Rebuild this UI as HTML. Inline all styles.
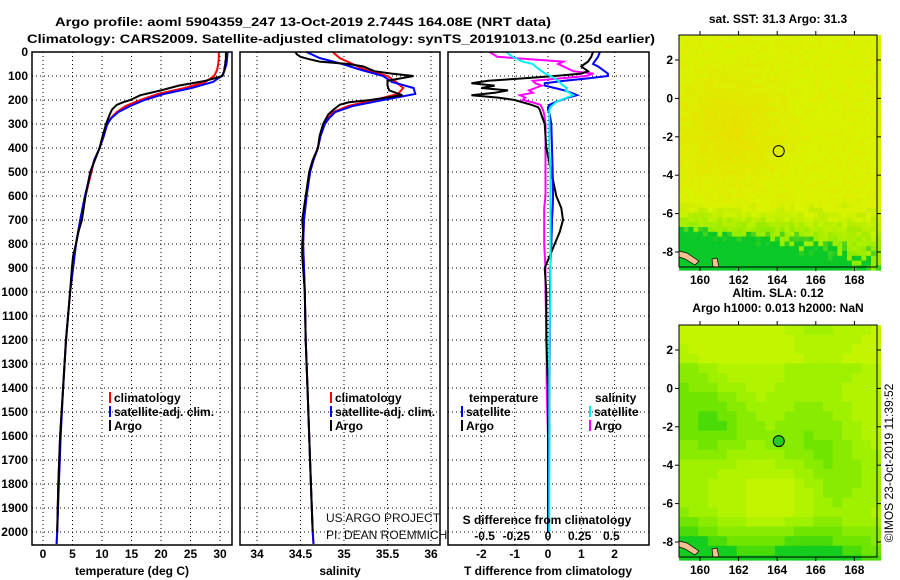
<!DOCTYPE html>
<html><head><meta charset="utf-8"><style>
html,body{margin:0;padding:0;background:#fff;width:900px;height:580px;overflow:hidden}
svg{display:block;font-family:"Liberation Sans",sans-serif}
.b{font-weight:bold;font-size:12px}
</style></head><body>
<svg id="fig" width="900" height="580" viewBox="0 0 900 580">
<text x="303" y="26" text-anchor="middle" class="b" font-size="13" textLength="496" lengthAdjust="spacingAndGlyphs">Argo profile: aoml 5904359_247 13-Oct-2019 2.744S 164.08E (NRT data)</text>
<text x="341" y="43" text-anchor="middle" class="b" font-size="13" textLength="628" lengthAdjust="spacingAndGlyphs">Climatology: CARS2009. Satellite-adjusted climatology: synTS_20191013.nc (0.25d earlier)</text>
<g id="panels"></g>
<g id="maps"></g>
<text transform="translate(893,463) rotate(-90)" text-anchor="middle" font-size="12">©IMOS 23-Oct-2019 11:39:52</text>
</svg>
<script>
// ---------- data ----------
const depthC = [0,25,50,75,100,125,150,175,200,225,250,275,300,350,400,450,500,600,700,800,900,1000,1200,1400,1600,1800,2000,2050];
const tClim = [29.8,29.8,29.7,29.5,29.0,27.5,24.0,19.5,16.5,14.0,12.5,11.5,10.8,10.3,9.6,8.7,8.2,7.2,6.3,5.6,5.1,4.6,3.9,3.4,2.9,2.6,2.4,2.3];
const tSat = [31.3,31.2,31.1,30.8,30.3,28.8,25.2,20.5,17.2,14.8,12.8,11.6,10.9,10.3,9.6,8.7,8.1,7.1,6.3,5.6,5.1,4.6,3.9,3.4,3.0,2.7,2.4,2.3];
const sClim = [34.87,34.95,35.1,35.25,35.5,35.6,35.68,35.62,35.35,35.05,34.88,34.82,34.77,34.73,34.7,34.65,34.61,34.57,34.54,34.53,34.54,34.55,34.56,34.58,34.6,34.62,34.64,34.65];
const sSat = [34.57,34.72,34.98,35.2,35.45,35.55,35.8,35.82,35.45,35.1,34.9,34.83,34.78,34.73,34.7,34.65,34.61,34.57,34.54,34.53,34.54,34.55,34.56,34.58,34.6,34.62,34.64,34.65];
const depthA = [0,10,20,30,40,50,60,80,90,100,110,120,140,160,180,200,210,220,240,260,300,350,400,450,500,600,700,750,800,850,900,1000,1200,1400,1600,1800,2000];
const tArgo = [31.0,31.0,31.0,31.0,30.9,30.9,30.8,30.7,30.6,30.4,29.0,27.5,23.0,20.0,16.5,14.8,13.5,12.5,11.7,11.3,10.7,10.1,9.6,8.8,8.0,7.2,6.6,6.0,5.6,5.1,4.9,4.6,3.9,3.4,2.9,2.6,2.4];
const sArgo = [34.44,34.46,34.5,34.6,34.72,35.05,35.22,35.35,35.55,35.8,35.65,35.5,35.5,35.52,35.67,35.3,35.05,34.95,34.88,34.82,34.76,34.72,34.7,34.64,34.6,34.56,34.52,34.53,34.52,34.52,34.53,34.55,34.56,34.58,34.6,34.62,34.64];
const dDepth = [0,20,40,50,60,80,90,100,110,120,130,140,150,160,170,180,190,200,210,220,230,240,260,300,400,500,600,650,700,750,800,900,1000,1200,1400,1600,1800,2000];
const dTSat = [1.56,1.5,1.4,1.35,1.5,1.7,1.8,1.8,1.2,0.5,-0.1,-0.1,0.2,0.5,0.7,0.87,0.6,0.4,0.2,0.05,0.0,0.0,0.05,0.1,0.12,0.14,0.15,0.14,0.12,0.11,0.1,0.07,0.06,0.05,0.04,0.04,0.03,0.02];
const dTArgo = [1.35,1.3,1.2,1.1,1.0,1.2,1.0,0.2,-0.75,-1.8,-2.3,-1.6,-2.0,-1.2,-1.6,-2.3,-1.5,-1.0,-0.75,-0.5,-0.3,-0.25,-0.2,-0.1,-0.05,0.1,0.25,0.4,0.45,0.35,0.2,-0.1,-0.05,-0.05,0.0,0.0,0.0,0.0];
const dSSat = [-0.33,-0.28,-0.2,-0.12,-0.1,-0.05,-0.02,0.02,0.05,0.08,0.1,0.12,0.15,0.14,0.17,0.2,0.15,0.1,0.06,0.04,0.02,0.01,0.01,0.01,0.01,0.02,0.02,0.02,0.02,0.02,0.02,0.02,0.02,0.01,0.01,0.01,0.01,0.01];
const dSArgo = [-0.46,-0.4,0.12,0.08,0.12,0.2,0.36,0.3,0.1,-0.12,-0.1,-0.05,-0.1,-0.15,-0.12,-0.22,-0.18,-0.2,-0.12,-0.06,-0.05,-0.04,-0.03,-0.02,-0.02,-0.02,-0.02,-0.03,-0.03,-0.03,-0.03,-0.02,-0.02,-0.01,-0.01,0,0,0];
const depthTicks = [0,100,200,300,400,500,600,700,800,900,1000,1100,1200,1300,1400,1500,1600,1700,1800,1900,2000];
const tTicks = [0,5,10,15,20,25,30];
const sTicks = [34,34.5,35,35.5,36];
const sTickLabels = ["34","34.5","35","35.5","36"];
const dTTicks = [-2,-1,0,1,2];
const dSTicks = [-0.5,-0.25,0,0.25,0.5];
const dSTickLabels = ["-0.5","-0.25","0","0.25","0.5"];
const lonTicks = [160,162,164,166,168];
const latTicks = [2,0,-2,-4,-6,-8];
const argoLon = 164.08, argoLat = -2.744;

// ---------- helpers ----------
const NS = "http://www.w3.org/2000/svg";
function mk(tag, attrs, parent){const e=document.createElementNS(NS,tag);for(const k in attrs)e.setAttribute(k,attrs[k]);parent.appendChild(e);return e;}
const yD = d => 52 + d*0.24;
const yBot = 545;
const xT = v => 43 + 5.9*v;
const xS = v => 257 + 87*(v-34);
const xDT = v => 548 + 33.3*v;
const xDS = v => 548 + 126.7*v;
const panelsG = document.getElementById('panels');

function panel(name, x0, x1, gridXs){
  const g = mk('g',{},panelsG);
  
  
  depthTicks.forEach(d=>{ if(d>0) mk('line',{x1:x0,x2:x1,y1:yD(d),y2:yD(d),stroke:'#000','stroke-width':1,'stroke-dasharray':'1,3'},g); });
  gridXs.forEach(x=>{ mk('line',{x1:x,x2:x,y1:52,y2:yBot,stroke:'#000','stroke-width':1,'stroke-dasharray':'1,3'},g); });
  return g;
}
function frame(g,x0,x1){ mk('rect',{x:x0,y:52,width:x1-x0,height:yBot-52,fill:'none',stroke:'#000','stroke-width':1.5},g); }
function line(g, xs, ds, fx, color, name){
  const pts = xs.map((v,i)=>fx(v).toFixed(1)+','+yD(ds[i]).toFixed(1)).join(' ');
  const p = mk('polyline',{points:pts,fill:'none',stroke:color,'stroke-width':2},g);
  
  
}
function txt(g,x,y,s,attrs){const t=mk('text',Object.assign({x:x,y:y},attrs||{}),g);t.textContent=s;return t;}

// Panel 1 temperature
const p1 = panel('temperature-panel',32,232,tTicks.map(xT));
line(p1,tClim,depthC,xT,'#ff0000','temp-climatology-line');
line(p1,tSat,depthC,xT,'#0000ff','temp-satellite-line');
line(p1,tArgo,depthA,xT,'#000000','temp-argo-line');
frame(p1,32,232);
depthTicks.forEach(d=>{ const t=txt(p1,28,yD(d)+4,String(d),{'text-anchor':'end',class:'b'});   });
tTicks.forEach(v=>{ const t=txt(p1,xT(v),558,String(v),{'text-anchor':'middle',class:'b'});   });
txt(p1,132,575,'temperature (deg C)',{'text-anchor':'middle',class:'b'});

// Panel 2 salinity
const p2 = panel('salinity-panel',240,440,sTicks.map(xS));
line(p2,sClim,depthC,xS,'#ff0000','sal-climatology-line');
line(p2,sSat,depthC,xS,'#0000ff','sal-satellite-line');
line(p2,sArgo,depthA,xS,'#000000','sal-argo-line');
frame(p2,240,440);
sTicks.forEach((v,i)=>{ const t=txt(p2,xS(v),558,sTickLabels[i],{'text-anchor':'middle',class:'b'});   });
txt(p2,340,575,'salinity',{'text-anchor':'middle',class:'b'});
txt(p2,326,522,'US ARGO PROJECT',{'font-size':12,fill:'#111'});
txt(p2,326,539,'PI: DEAN ROEMMICH',{'font-size':12,fill:'#111'});

// Panel 3 differences
const p3 = panel('difference-panel',448,649,dTTicks.map(xDT));
line(p3,dSArgo,dDepth,xDS,'#ff00ff','sal-argo-diff-line');
line(p3,dTArgo,dDepth,xDT,'#000000','temp-argo-diff-line');
line(p3,dTSat,dDepth,xDT,'#0000ff','temp-satellite-diff-line');
line(p3,dSSat,dDepth,xDS,'#00eeee','sal-satellite-diff-line');
frame(p3,448,649);
dTTicks.forEach(v=>{ const t=txt(p3,xDT(v),558,String(v),{'text-anchor':'middle',class:'b'});   });
txt(p3,548,575,'T difference from climatology',{'text-anchor':'middle',class:'b'});
txt(p3,547,524,'S difference from climatology',{'text-anchor':'middle',class:'b'});
dSTicks.forEach((v,i)=>{ const t=txt(p3,xDS(v),540,dSTickLabels[i],{'text-anchor':'middle',class:'b'});   });

// legends
function legend(g,x,y,color,label,name){
  const lg = mk('g',{},g);
  
  
  mk('rect',{x:x,y:y-6,width:2,height:11,fill:color},lg);
  txt(lg,x+5,y+4,label,{class:'b'});
}
legend(p1,109,398,'#ff0000','climatology','legend-climatology');
legend(p1,109,412,'#0000ff','satellite-adj. clim.','legend-satellite');
legend(p1,109,426,'#000000','Argo','legend-argo');
legend(p2,330,398,'#ff0000','climatology','legend-sal-climatology');
legend(p2,330,412,'#0000ff','satellite-adj. clim.','legend-sal-satellite');
legend(p2,330,426,'#000000','Argo','legend-sal-argo');
txt(p3,469,402,'temperature',{class:'b'});
txt(p3,595,402,'salinity',{class:'b'});
legend(p3,461,412,'#0000ff','satellite','legend-tdiff-satellite');
legend(p3,461,426,'#000000','Argo','legend-tdiff-argo');
legend(p3,589,412,'#00eeee','satellite','legend-sdiff-satellite');
legend(p3,589,426,'#ff00ff','Argo','legend-sdiff-argo');

// ---------- maps ----------
const mapsG = document.getElementById('maps');
const lonX = lon => 680.7 + (lon-159)*19.3;
function hash(i,j){let h=(i*374761393+j*668265263)>>>0;h=((h^(h>>>13))*1274126177)>>>0;return ((h^(h>>>16))&1023)/1023;}
function mix(a,b,t){t=Math.max(0,Math.min(1,t));return a.map((v,k)=>Math.round(v+(b[k]-v)*t));}
function rgb(c){return 'rgb('+c.join(',')+')';}
function map(name, top, title1, title2, colorFn, filled){
  const g = mk('g',{},mapsG);
  
  
  const latY = lat => top + 25 + (2-lat)*19.2;
  const x0=679,x1=877,y0=top,y1=top+232;
  const cs=4.8;
  for(let j=0;j*cs<y1-y0;j++){
    for(let i=0;i*cs<x1-x0;i++){
      const lon=159+(i*cs)/19.3, lat=2+ (25-j*cs)/19.2;
      mk('rect',{x:(x0+i*cs).toFixed(1),y:(y0+j*cs).toFixed(1),width:cs+0.4,height:cs+0.4,fill:colorFn(lon,lat,i,j)},g);
    }
  }
  mk('polygon',{points:`${x0},${y1-16} ${x0+8},${y1-14} ${x0+20},${y1-6} ${x0+16},${y1-2} ${x0+6},${y1-8} ${x0},${y1-10}`,fill:'#f5c090',stroke:'#000','stroke-width':0.7},g);
  mk('polygon',{points:`${x0+33},${y1-8} ${x0+38},${y1-9} ${x0+40},${y1} ${x0+34},${y1}`,fill:'#f5c090',stroke:'#000','stroke-width':0.7},g);
  mk('rect',{x:x0,y:y0,width:x1-x0,height:y1-y0,fill:'none',stroke:'#000','stroke-width':1},g);
  lonTicks.forEach(l=>{ mk('line',{x1:lonX(l),x2:lonX(l),y1:y1,y2:y1+4,stroke:'#000'},g); mk('line',{x1:lonX(l),x2:lonX(l),y1:y0,y2:y0-4,stroke:'#000'},g);
    const t=txt(g,lonX(l),y1+17,String(l),{'text-anchor':'middle',class:'b'});   });
  latTicks.forEach(l=>{ mk('line',{x1:x0-4,x2:x0,y1:latY(l),y2:latY(l),stroke:'#000'},g); mk('line',{x1:x1,x2:x1+4,y1:latY(l),y2:latY(l),stroke:'#000'},g);
    const t=txt(g,673,latY(l)+4,String(l),{'text-anchor':'end',class:'b'});   });
  const c = mk('circle',{cx:lonX(argoLon),cy:latY(argoLat),r:5.5,fill:filled?'#22cc22':'none',stroke:'#000','stroke-width':1},g);
  
  
  if(title2){ txt(g,778,top-28,title1,{'text-anchor':'middle',class:'b'}); txt(g,778,top-13,title2,{'text-anchor':'middle',class:'b'}); }
  else txt(g,778,top-12,title1,{'text-anchor':'middle',class:'b'});
}
const Y=[215,245,0],O=[240,215,0],G=[10,200,40],LG=[130,235,0];
map('sst-map',35,'sat. SST: 31.3 Argo: 31.3',null,(lon,lat,i,j)=>{
  const n=hash(i,j);
  let c=mix(Y,O,Math.max(0,0.5-Math.hypot(lon-161.5,lat+1.5)/8)+n*0.25);
  const west=1-(lon-159)/11;
  let g=((-5.5-lat)/2.2)*(0.45+0.9*west) + (n-0.5)*0.35;
  if(g>0.05) c=mix(c, g>0.7?G:LG, g>0.7?Math.min(1,(g-0.7)*3+0.6):g*1.2);
  return rgb(c);
},false);
const SY=[195,245,0], SL=[150,240,0], SD=[95,225,0];
map('sla-map',325,'Altim. SLA: 0.12','Argo h1000: 0.013 h2000: NaN',(lon,lat,i,j)=>{
  const ii=Math.floor(i/2),jj=Math.floor(j/2);
  const L=159+ii*9.6/19.3, A=2-(jj*9.6-25)/19.2;
  let v=0.55+0.12*Math.sin(L*0.9)+0.12*Math.cos(A*0.8+L*0.3)
       -Math.max(0,(-6.3-A)/2.5)*0.7
       -Math.max(0,0.3-Math.hypot(L-161,A+1.5)/8)
       +Math.max(0,0.35-Math.hypot(L-164.5,A+5)/7)
       +(A>1.8?0.25:0);
  v=Math.round(v*7)/7;
  let c;
  if(v<0.2) c=mix([20,205,30],SD,v/0.2);
  else if(v<0.5) c=mix(SD,SL,(v-0.2)/0.3);
  else c=mix(SL,SY,(v-0.5)/0.35);
  return rgb(c);
},true);
</script>
</body></html>
